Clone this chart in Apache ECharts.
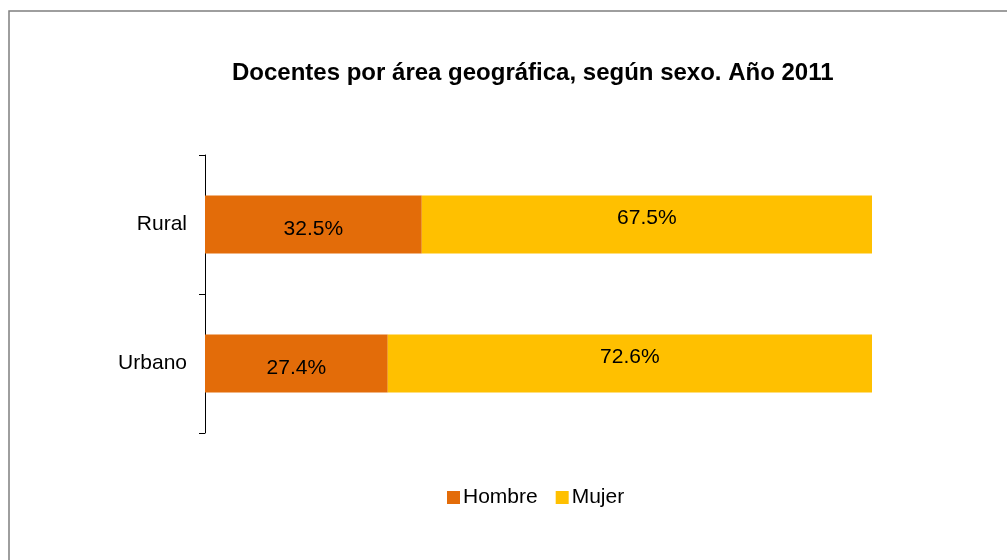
<!DOCTYPE html>
<html>
<head>
<meta charset="utf-8">
<script src="https://cdn.jsdelivr.net/npm/echarts@6/dist/echarts.min.js"></script>
<style>
  html, body { margin: 0; padding: 0; background: #fff; }
  #chart { width: 1007px; height: 560px; }
</style>
</head>
<body>
<div id="chart"></div>
<script>
  // datos
  var areas = ['Rural', 'Urbano'];
  var hombre = [32.5, 27.4];
  var mujer = [67.5, 72.6];

  var chart = echarts.init(document.getElementById('chart'));
  var font = 'Liberation Sans, Arial, sans-serif';

  var option = {
    animation: false,
    backgroundColor: '#fff',
    textStyle: { fontFamily: font },
    title: {
      text: 'Docentes por área geográfica, según sexo. Año 2011',
      left: 227,
      top: 56,
      textStyle: { fontFamily: font, fontSize: 24, fontWeight: 'bold', color: '#000' }
    },
    graphic: [{
      type: 'rect',
      shape: { x: 9, y: 11, width: 1100, height: 700 },
      style: { fill: 'none', stroke: '#7f7f7f', lineWidth: 1.5 },
      silent: true
    }],
    legend: {
      data: ['Hombre', 'Mujer'],
      left: 442,
      top: 482,
      itemWidth: 13,
      itemHeight: 13,
      itemGap: 18,
      icon: 'rect',
      textStyle: { fontFamily: font, fontSize: 21, color: '#000', padding: [0, 0, 0, -2] }
    },
    grid: { left: 205, right: 135, top: 155, bottom: 127 },
    xAxis: {
      type: 'value',
      min: 0,
      max: 100,
      show: false
    },
    yAxis: {
      type: 'category',
      data: areas,
      inverse: true,
      axisLine: { show: true, lineStyle: { color: '#000', width: 1 } },
      axisTick: { show: true, length: 6, lineStyle: { color: '#000' } },
      axisLabel: { fontFamily: font, fontSize: 21, color: '#000', margin: 18 }
    },
    series: [
      {
        name: 'Hombre',
        type: 'bar',
        stack: 'total',
        barWidth: 58,
        data: hombre,
        itemStyle: { color: '#E36C09' },
        label: {
          show: true,
          position: 'inside',
          offset: [0, 5],
          fontFamily: font,
          fontSize: 21,
          color: '#000',
          formatter: function (p) { return p.value.toFixed(1) + '%'; }
        }
      },
      {
        name: 'Mujer',
        type: 'bar',
        stack: 'total',
        barWidth: 58,
        data: mujer,
        itemStyle: { color: '#FFC000' },
        label: {
          show: true,
          position: 'inside',
          offset: [0, -6],
          fontFamily: font,
          fontSize: 21,
          color: '#000',
          formatter: function (p) { return p.value.toFixed(1) + '%'; }
        }
      }
    ]
  };
  chart.setOption(option);
</script>
</body>
</html>
